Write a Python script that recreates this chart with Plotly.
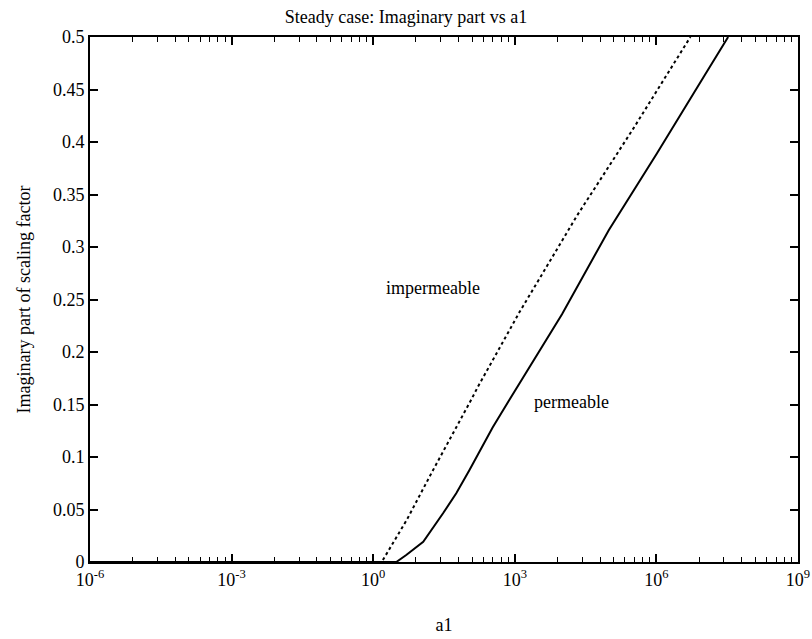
import numpy as np
import plotly.graph_objects as go

# Data (log10 of a1, imaginary part)
imperm_log_a1 = [-6, 0.18, 0.71, 1.25, 2.07, 2.22, 3.1, 4.15, 4.32, 5.5, 6.64, 6.72]
imperm_imag = [0.0, 0.0, 0.040, 0.086, 0.154, 0.167, 0.238, 0.316, 0.33, 0.412, 0.495, 0.5]

perm_log_a1 = [-6, 0.49, 0.70, 1.06, 1.48, 1.76, 2.04, 2.53, 2.88, 4.0, 4.99, 6.01, 7.0, 7.52]
perm_imag = [0.0, 0.0, 0.0067, 0.0193, 0.0464, 0.0654, 0.0876, 0.128, 0.154, 0.236, 0.316, 0.389, 0.462, 0.5]

x_tick_vals = [1e-6, 1e-3, 1e0, 1e3, 1e6, 1e9]
x_tick_text = ["10<sup>-6</sup>", "10<sup>-3</sup>", "10<sup>0</sup>",
               "10<sup>3</sup>", "10<sup>6</sup>", "10<sup>9</sup>"]
y_tick_vals = [0, 0.05, 0.1, 0.15, 0.2, 0.25, 0.3, 0.35, 0.4, 0.45, 0.5]
y_tick_text = ["0", "0.05", "0.1", "0.15", "0.2", "0.25", "0.3", "0.35", "0.4", "0.45", "0.5"]

# MATLAB-style minor ticks: k^3 scaling within each 3-decade interval
minor_vals = []
for base in [-6, -3, 0, 3, 6]:
    for k in range(2, 10):
        minor_vals.append(10 ** (base + 3 * np.log10(k)))

FONT = "Liberation Serif"

fig = go.Figure()
fig.add_trace(go.Scatter(
    x=[10 ** v for v in imperm_log_a1], y=imperm_imag, mode="lines",
    line=dict(color="black", width=2, dash="dot"), name="impermeable"))
fig.add_trace(go.Scatter(
    x=[10 ** v for v in perm_log_a1], y=perm_imag, mode="lines",
    line=dict(color="black", width=2), name="permeable"))

fig.add_annotation(x=1.27, y=0.261, text="impermeable", showarrow=False,
                   font=dict(family=FONT, size=18, color="black"), xref="x", yref="y")
fig.add_annotation(x=4.2, y=0.152, text="permeable", showarrow=False,
                   font=dict(family=FONT, size=18, color="black"), xref="x", yref="y")

fig.update_layout(
    width=812, height=639,
    margin=dict(l=90, r=14, t=37, b=77),
    paper_bgcolor="white", plot_bgcolor="white",
    showlegend=False,
    font=dict(family=FONT, size=18, color="black"),
    title=dict(text="Steady case: Imaginary part vs a1", x=0.5, xanchor="center",
               y=1 - 17 / 639, yanchor="middle", font=dict(family=FONT, size=18, color="black")),
    xaxis=dict(
        type="log", range=[-6, 9], tickmode="array", tickvals=x_tick_vals, ticktext=x_tick_text,
        ticklabeloverflow="allow",
        ticks="inside", ticklen=8, tickwidth=1.5, tickcolor="black",
        showline=True, linecolor="black", linewidth=2, mirror="ticks",
        showgrid=False, zeroline=False,
        minor=dict(tickmode="array", tickvals=minor_vals, ticks="inside", ticklen=5,
                   tickwidth=1.2, tickcolor="black", showgrid=False),
        title=dict(text="a1", font=dict(family=FONT, size=18), standoff=30),
        automargin=False,
    ),
    yaxis=dict(
        range=[0, 0.5], tickmode="array", tickvals=y_tick_vals, ticktext=y_tick_text,
        ticklabeloverflow="allow",
        ticks="inside", ticklen=8, tickwidth=1.5, tickcolor="black",
        showline=True, linecolor="black", linewidth=2, mirror="ticks",
        showgrid=False, zeroline=False,
        title=dict(text="Imaginary part of scaling factor", font=dict(family=FONT, size=18), standoff=18),
        automargin=False,
    ),
)

fig.write_html("out.html")
